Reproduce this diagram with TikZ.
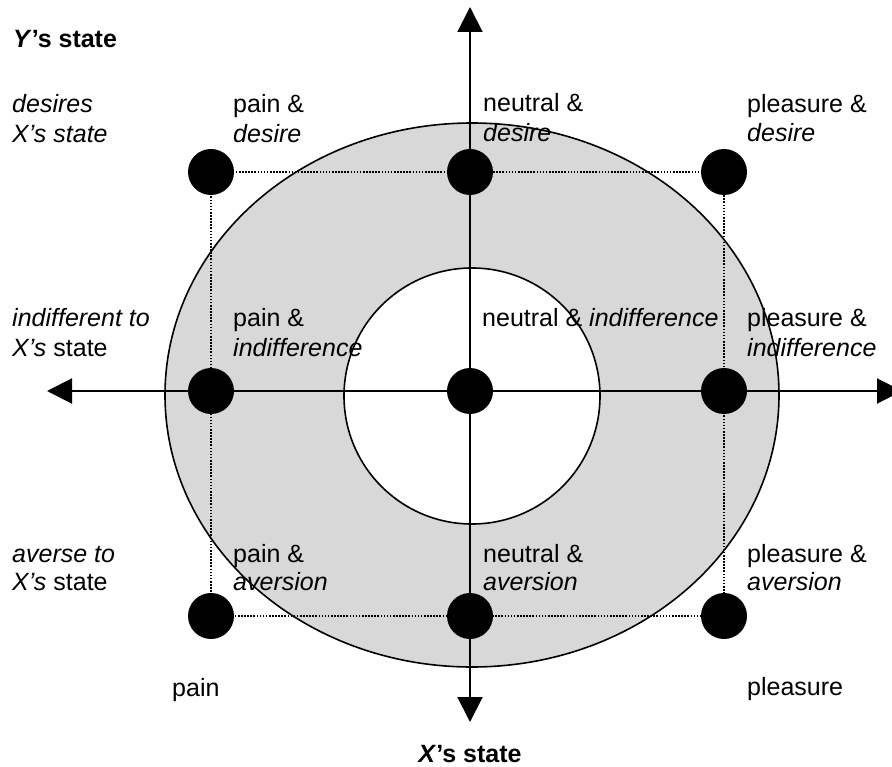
\documentclass[tikz,border=0pt]{standalone}
\usepackage{fontspec}
\setmainfont{Liberation Sans}
\usetikzlibrary{arrows.meta}
\definecolor{ringgray}{HTML}{D8D8D8}
\begin{document}
\begin{tikzpicture}[x=1pt,y=-1pt,
  lbl/.style={anchor=base west, inner sep=0pt, font=\fontsize{25}{30}\selectfont},
  head/.style={inner sep=0pt, font=\fontsize{25}{30}\selectfont\bfseries},
  axisline/.style={line width=2pt, {Triangle[width=25pt,length=25pt]}-{Triangle[width=25pt,length=25pt]}},
  gridline/.style={line width=1.7pt, dash pattern=on 1.6pt off 1.5pt},
  dot/.style={circle, fill=black, minimum size=46pt, inner sep=0pt},
  ring/.style={line width=1.6pt, draw=black}]
\useasboundingbox (0,0) rectangle (892,767);
\clip (0,0) rectangle (892,767);

% outer ring and inner white disc
\fill[ringgray] (472,395) ellipse [x radius=307, y radius=272];
\draw[ring] (472,395) ellipse [x radius=307, y radius=272];
\draw[ring, fill=white] (472,396) circle [radius=128];

% grid positions of the nine states
\coordinate (pA) at (211,172);
\coordinate (pB) at (470,172);
\coordinate (pC) at (724,172);
\coordinate (pD) at (211,391);
\coordinate (pE) at (470,391);
\coordinate (pF) at (724,391);
\coordinate (pG) at (211,616);
\coordinate (pH) at (470,616);
\coordinate (pI) at (724,616);

% dotted frame through the corner states
\draw[gridline] (pA) -- (pC) -- (pI) -- (pG) -- cycle;

% axes
\coordinate (yTop) at (470,7);
\coordinate (yBot) at (470,722);
\coordinate (xLeft) at (47,391);
\coordinate (xRight) at (902,391);
\draw[axisline] (yBot) -- (yTop);
\draw[axisline] (xLeft) -- (xRight);

% state dots
\foreach \p in {pA,pB,pC,pD,pE,pF,pG,pH,pI}
  \node[dot] (d\p) at (\p) {};

% axis titles
\node[head, anchor=base west] (yTitle) at (13,48) {\textit{Y}’s state};
\node[head, anchor=base] (xTitle) at (470,762) {\textit{X}’s state};

% row captions
\node[lbl] (rowDa) at (12,113) {\textit{desires}};
\node[lbl] (rowDb) at (12,143) {\textit{X’s state}};
\node[lbl] (rowIa) at (12,327) {\textit{indifferent to}};
\node[lbl] (rowIb) at (12,356) {\textit{X’s} state};
\node[lbl] (rowAa) at (12,562) {\textit{averse to}};
\node[lbl] (rowAb) at (12,590) {\textit{X’s} state};

% column captions
\node[lbl] (colPain) at (172,696) {pain};
\node[lbl] (colPleasure) at (747,695) {pleasure};

% state labels, top row
\node[lbl] (lAa) at (233,113) {pain \&};
\node[lbl] (lAb) at (233,143) {\textit{desire}};
\node[lbl] (lBa) at (483,112) {neutral \&};
\node[lbl] (lBb) at (483,142) {\textit{desire}};
\node[lbl] (lCa) at (747,113) {pleasure \&};
\node[lbl] (lCb) at (747,142) {\textit{desire}};

% state labels, middle row
\node[lbl] (lDa) at (233,327) {pain \&};
\node[lbl] (lDb) at (233,356) {\textit{indifference}};
\node[lbl] (lE) at (482,327) {neutral \& \textit{indifference}};
\node[lbl] (lFa) at (747,327) {pleasure \&};
\node[lbl] (lFb) at (747,356) {\textit{indifference}};

% state labels, bottom row
\node[lbl] (lGa) at (233,562) {pain \&};
\node[lbl] (lGb) at (233,590) {\textit{aversion}};
\node[lbl] (lHa) at (483,562) {neutral \&};
\node[lbl] (lHb) at (483,590) {\textit{aversion}};
\node[lbl] (lIa) at (747,562) {pleasure \&};
\node[lbl] (lIb) at (747,590) {\textit{aversion}};
\end{tikzpicture}
\end{document}
